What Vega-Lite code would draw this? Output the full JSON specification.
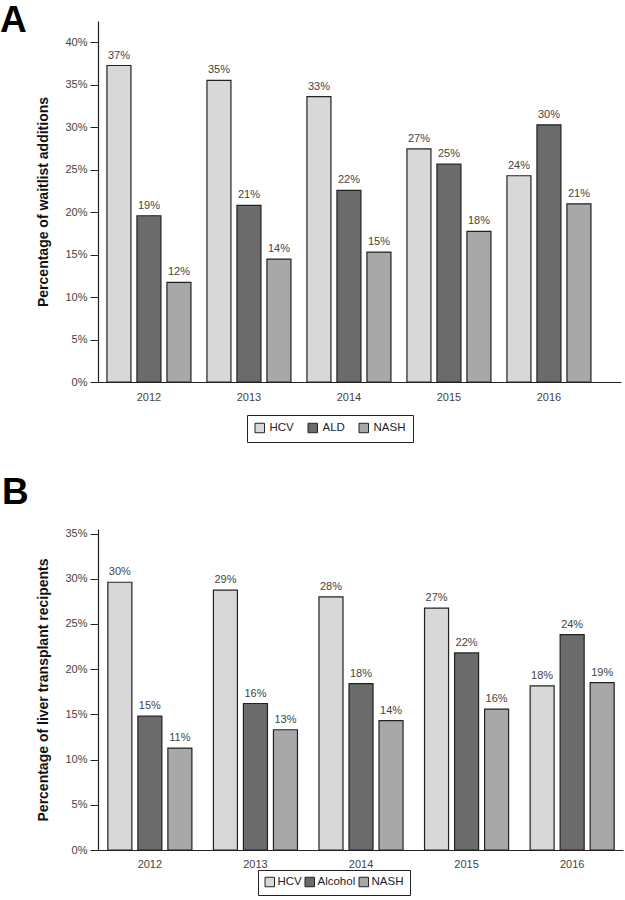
{
  "$schema": "https://vega.github.io/schema/vega-lite/v6.json",
  "background": "white",
  "padding": {"left": 0, "top": 2, "right": 2, "bottom": 0},
  "spacing": 30,
  "config": {
    "font": "Liberation Sans",
    "view": {"stroke": null},
    "axis": {"labelFont": "Liberation Sans", "titleFont": "Liberation Sans"},
    "legend": {"labelFont": "Liberation Sans"}
  },
  "vconcat": [
    {
      "width": 523,
      "height": 361,
      "title": {"text": "A", "anchor": "start", "frame": "group", "dx": -98, "offset": -19, "fontSize": 37, "fontWeight": "bold", "color": "#000"},
      "data": {"values": [
        {"year": "2012", "cause": "HCV", "value": 37.26, "label": "37%"},
        {"year": "2012", "cause": "ALD", "value": 19.57, "label": "19%"},
        {"year": "2012", "cause": "NASH", "value": 11.73, "label": "12%"},
        {"year": "2013", "cause": "HCV", "value": 35.5, "label": "35%"},
        {"year": "2013", "cause": "ALD", "value": 20.8, "label": "21%"},
        {"year": "2013", "cause": "NASH", "value": 14.47, "label": "14%"},
        {"year": "2014", "cause": "HCV", "value": 33.6, "label": "33%"},
        {"year": "2014", "cause": "ALD", "value": 22.55, "label": "22%"},
        {"year": "2014", "cause": "NASH", "value": 15.3, "label": "15%"},
        {"year": "2015", "cause": "HCV", "value": 27.45, "label": "27%"},
        {"year": "2015", "cause": "ALD", "value": 25.65, "label": "25%"},
        {"year": "2015", "cause": "NASH", "value": 17.73, "label": "18%"},
        {"year": "2016", "cause": "HCV", "value": 24.28, "label": "24%"},
        {"year": "2016", "cause": "ALD", "value": 30.28, "label": "30%"},
        {"year": "2016", "cause": "NASH", "value": 20.98, "label": "21%"}
      ]},
      "encoding": {
        "x": {"field": "year", "type": "nominal",
          "scale": {"paddingInner": 0.1, "paddingOuter": 0.165, "align": 0.18},
          "axis": {"title": null, "labelAngle": 0, "ticks": false, "domainColor": "#222", "domainWidth": 1.2, "labelColor": "#444", "labelFontSize": 11, "labelPadding": 9}},
        "xOffset": {"field": "cause", "type": "nominal", "sort": ["HCV", "ALD", "NASH"],
          "scale": {"domain": ["HCV", "ALD", "NASH"], "paddingInner": 0.2, "paddingOuter": 0.1}},
        "y": {"field": "value", "type": "quantitative",
          "scale": {"domain": [0, 42.5], "nice": false},
          "axis": {"title": "Percentage of waitlist additions", "titleFontSize": 14, "titleFontWeight": "bold", "titleColor": "#111", "titlePadding": 14,
            "values": [0, 5, 10, 15, 20, 25, 30, 35, 40], "labelExpr": "datum.value + '%'", "grid": false,
            "domainColor": "#222", "domainWidth": 1.2, "tickColor": "#222", "tickSize": 8, "labelColor": "#444", "labelFontSize": 11, "labelPadding": 3}}
      },
      "layer": [
        {"mark": {"type": "bar", "stroke": "#222", "strokeWidth": 1.2},
         "encoding": {"color": {"field": "cause", "type": "nominal",
           "scale": {"domain": ["HCV", "ALD", "NASH"], "range": ["#d8d8d8", "#6b6b6b", "#a8a8a8"]},
           "legend": {"title": null, "orient": "none", "legendX": 149, "legendY": 394, "direction": "horizontal",
             "strokeColor": "#222", "padding": 7, "symbolType": "square", "symbolSize": 90, "symbolStrokeColor": "#222", "symbolStrokeWidth": 1,
             "labelFontSize": 11.5, "labelColor": "#222", "columnPadding": 12, "labelOffset": 4}}}},
        {"mark": {"type": "text", "baseline": "alphabetic", "dy": -7, "fontSize": 11, "color": "#444"},
         "encoding": {"text": {"field": "label"}}}
      ]
    },
    {
      "width": 525,
      "height": 321,
      "title": {"text": "B", "anchor": "start", "frame": "group", "dx": -96, "offset": 16, "fontSize": 37, "fontWeight": "bold", "color": "#000"},
      "data": {"values": [
        {"year": "2012", "cause": "HCV", "value": 29.61, "label": "30%"},
        {"year": "2012", "cause": "Alcohol", "value": 14.8, "label": "15%"},
        {"year": "2012", "cause": "NASH", "value": 11.27, "label": "11%"},
        {"year": "2013", "cause": "HCV", "value": 28.73, "label": "29%"},
        {"year": "2013", "cause": "Alcohol", "value": 16.2, "label": "16%"},
        {"year": "2013", "cause": "NASH", "value": 13.3, "label": "13%"},
        {"year": "2014", "cause": "HCV", "value": 28.0, "label": "28%"},
        {"year": "2014", "cause": "Alcohol", "value": 18.4, "label": "18%"},
        {"year": "2014", "cause": "NASH", "value": 14.3, "label": "14%"},
        {"year": "2015", "cause": "HCV", "value": 26.74, "label": "27%"},
        {"year": "2015", "cause": "Alcohol", "value": 21.8, "label": "22%"},
        {"year": "2015", "cause": "NASH", "value": 15.58, "label": "16%"},
        {"year": "2016", "cause": "HCV", "value": 18.15, "label": "18%"},
        {"year": "2016", "cause": "Alcohol", "value": 23.82, "label": "24%"},
        {"year": "2016", "cause": "NASH", "value": 18.52, "label": "19%"}
      ]},
      "encoding": {
        "x": {"field": "year", "type": "nominal",
          "scale": {"paddingInner": 0.147, "paddingOuter": 0.06, "align": 0.54},
          "axis": {"title": null, "labelAngle": 0, "ticks": false, "domainColor": "#222", "domainWidth": 1.2, "labelColor": "#444", "labelFontSize": 11, "labelPadding": 8}},
        "xOffset": {"field": "cause", "type": "nominal", "sort": ["HCV", "Alcohol", "NASH"],
          "scale": {"domain": ["HCV", "Alcohol", "NASH"], "paddingInner": 0.2, "paddingOuter": 0.1}},
        "y": {"field": "value", "type": "quantitative",
          "scale": {"domain": [0, 35.5], "nice": false},
          "axis": {"title": "Percentage of liver transplant recipents", "titleFontSize": 14, "titleFontWeight": "bold", "titleColor": "#111", "titlePadding": 14,
            "values": [0, 5, 10, 15, 20, 25, 30, 35], "labelExpr": "datum.value + '%'", "grid": false,
            "domainColor": "#222", "domainWidth": 1.2, "tickColor": "#222", "tickSize": 8, "labelColor": "#444", "labelFontSize": 11, "labelPadding": 3}}
      },
      "layer": [
        {"mark": {"type": "bar", "stroke": "#222", "strokeWidth": 1.2},
         "encoding": {"color": {"field": "cause", "type": "nominal",
           "scale": {"domain": ["HCV", "Alcohol", "NASH"], "range": ["#d8d8d8", "#6b6b6b", "#a8a8a8"]},
           "legend": {"title": null, "orient": "none", "legendX": 160, "legendY": 341, "direction": "horizontal",
             "strokeColor": "#222", "padding": 6, "symbolType": "square", "symbolSize": 90, "symbolStrokeColor": "#222", "symbolStrokeWidth": 1,
             "labelFontSize": 11.5, "labelColor": "#222", "columnPadding": 1, "labelOffset": 2}}}},
        {"mark": {"type": "text", "baseline": "alphabetic", "dy": -7, "fontSize": 11, "color": "#444"},
         "encoding": {"text": {"field": "label"}}}
      ]
    }
  ],
  "resolve": {"scale": {"color": "independent", "x": "independent", "y": "independent", "xOffset": "independent"}}
}
